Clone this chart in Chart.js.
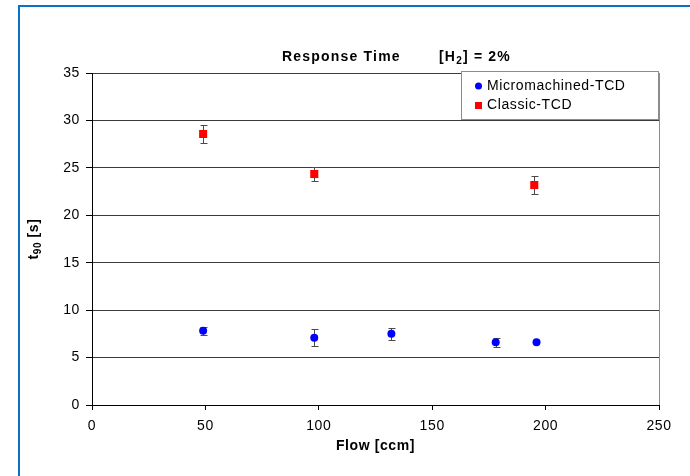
<!DOCTYPE html>
<html>
<head>
<meta charset="utf-8">
<script src="https://cdn.jsdelivr.net/npm/chart.js@4.4.0/dist/chart.umd.min.js"></script>
<style>
  html, body { margin: 0; padding: 0; background: #fff; }
  #wrap { width: 690px; height: 476px; position: relative; }
</style>
</head>
<body>
<div id="wrap"><canvas id="chart" width="690" height="476"></canvas></div>
<script>
// Flow [ccm] vs t90 [s], error = half bar length
const microFlow = [49, 98, 132, 178, 196];
const microT90 = [7.83, 7.1, 7.52, 6.61, 6.61];
const microErr = [0.4, 0.92, 0.63, 0.5, 0];

const classicFlow = [49, 98, 195];
const classicT90 = [28.57, 24.35, 23.19];
const classicErr = [0.91, 0.77, 0.91];

const xTicks = [0, 50, 100, 150, 200, 250];
const yTicks = [0, 5, 10, 15, 20, 25, 30, 35];

const FONT = "'Liberation Sans', Arial, sans-serif";

function toPoints(xs, ys, errs) {
    return xs.map((x, i) => ({ x: x, y: ys[i], err: errs[i] }));
}

// error bars, drawn under the markers
const errorBars = {
    id: 'errorBars',
    beforeDatasetsDraw(chart) {
        const ctx = chart.ctx;
        const xs = chart.scales.x, ys = chart.scales.y;
        ctx.save();
        ctx.strokeStyle = '#4a4a4a';
        ctx.lineWidth = 1;
        chart.data.datasets.forEach(ds => {
            ds.data.forEach(p => {
                if (!p.err) return;
                const px = Math.round(xs.getPixelForValue(p.x)) + 0.5;
                const top = Math.round(ys.getPixelForValue(p.y + p.err)) + 0.5;
                const bot = Math.round(ys.getPixelForValue(p.y - p.err)) + 0.5;
                ctx.beginPath();
                ctx.moveTo(px, top); ctx.lineTo(px, bot);
                ctx.moveTo(px - 3, top); ctx.lineTo(px + 4, top);
                ctx.moveTo(px - 3, bot); ctx.lineTo(px + 4, bot);
                ctx.stroke();
            });
        });
        ctx.restore();
    }
};

// frame, titles, legend
const decorations = {
    id: 'decorations',
    beforeDraw(chart) {
        const ctx = chart.ctx;
        ctx.save();
        ctx.fillStyle = '#fff';
        ctx.fillRect(0, 0, chart.width, chart.height);
        ctx.strokeStyle = '#0a72c4';
        ctx.lineWidth = 2;
        ctx.beginPath();
        ctx.moveTo(19, chart.height);
        ctx.lineTo(19, 6);
        ctx.lineTo(chart.width, 6);
        ctx.stroke();
        ctx.restore();
        // the reference text runs a little wide
        ctx.letterSpacing = '0.6px';
    },
    afterDraw(chart) {
        const ctx = chart.ctx;
        const area = chart.chartArea;
        ctx.save();

        // right edge of plot
        ctx.strokeStyle = '#8c8c8c';
        ctx.lineWidth = 1;
        ctx.beginPath();
        ctx.moveTo(Math.round(area.right) + 0.5, area.top);
        ctx.lineTo(Math.round(area.right) + 0.5, area.bottom);
        ctx.stroke();

        ctx.fillStyle = '#000';
        ctx.textBaseline = 'middle';

        // title
        ctx.letterSpacing = '1.2px';
        ctx.font = "bold 14px " + FONT;
        ctx.textAlign = 'left';
        ctx.fillText('Response Time', 282, 57);
        let x = 439;
        ctx.fillText('[H', x, 57);
        x += ctx.measureText('[H').width;
        ctx.font = "bold 10px " + FONT;
        ctx.fillText('2', x, 61);
        x += ctx.measureText('2').width;
        ctx.font = "bold 14px " + FONT;
        ctx.fillText('] = 2%', x, 57);

        // x axis title
        ctx.letterSpacing = '0.6px';
        ctx.textAlign = 'center';
        ctx.fillText('Flow [ccm]', (area.left + area.right) / 2, 446);

        // y axis title, rotated
        ctx.save();
        ctx.translate(34, (area.top + area.bottom) / 2);
        ctx.rotate(-Math.PI / 2);
        const w1 = ctx.measureText('t').width;
        ctx.font = "bold 10px " + FONT;
        const w2 = ctx.measureText('90').width;
        ctx.font = "bold 14px " + FONT;
        const w3 = ctx.measureText(' [s]').width;
        let tx = -(w1 + w2 + w3) / 2;
        ctx.textAlign = 'left';
        ctx.fillText('t', tx, 0);
        tx += w1;
        ctx.font = "bold 10px " + FONT;
        ctx.fillText('90', tx, 4);
        tx += w2;
        ctx.font = "bold 14px " + FONT;
        ctx.fillText(' [s]', tx, 0);
        ctx.restore();

        // legend box
        ctx.fillStyle = '#fff';
        ctx.fillRect(461, 71, 198, 48);
        ctx.strokeStyle = '#8c8c8c';
        ctx.strokeRect(461.5, 71.5, 197, 48);
        ctx.font = "14px " + FONT;
        ctx.textAlign = 'left';
        chart.data.datasets.forEach((ds, i) => {
            const cy = 86 + i * 19;
            ctx.fillStyle = ds.backgroundColor;
            if (ds.pointStyle === 'rect') {
                ctx.fillRect(475, cy - 3, 7, 7);
            } else {
                ctx.beginPath();
                ctx.arc(478.5, cy, 3.5, 0, Math.PI * 2);
                ctx.fill();
            }
            ctx.fillStyle = '#000';
            ctx.fillText(ds.label, 487, cy);
        });
        ctx.restore();
        ctx.letterSpacing = '0px';
    }
};

new Chart(document.getElementById('chart'), {
    type: 'scatter',
    data: {
        datasets: [{
            label: 'Micromachined-TCD',
            data: toPoints(microFlow, microT90, microErr),
            backgroundColor: '#0000ff',
            borderColor: '#0000ff',
            pointStyle: 'circle',
            pointRadius: 4,
            pointBorderWidth: 0
        }, {
            label: 'Classic-TCD',
            data: toPoints(classicFlow, classicT90, classicErr),
            backgroundColor: '#ff0000',
            borderColor: '#ff0000',
            pointStyle: 'rect',
            pointRadius: 5.7,
            pointBorderWidth: 0
        }]
    },
    options: {
        responsive: false,
        animation: false,
        devicePixelRatio: 1,
        layout: { padding: { top: 73, right: 31, left: 0, bottom: 0 } },
        plugins: {
            legend: { display: false },
            tooltip: { enabled: false },
            title: { display: false }
        },
        scales: {
            x: {
                type: 'linear',
                min: xTicks[0],
                max: xTicks[xTicks.length - 1],
                afterBuildTicks: s => { s.ticks = xTicks.map(v => ({ value: v })); },
                afterFit: s => { s.height = 71; },
                grid: { drawOnChartArea: false, drawTicks: true, tickLength: 5, tickColor: '#000' },
                border: { display: true, color: '#000', width: 1 },
                ticks: { color: '#000', font: { family: FONT, size: 14 }, padding: 8, maxRotation: 0 }
            },
            y: {
                type: 'linear',
                min: yTicks[0],
                max: yTicks[yTicks.length - 1],
                afterBuildTicks: s => { s.ticks = yTicks.map(v => ({ value: v })); },
                afterFit: s => { s.width = 92; },
                grid: { color: '#3a3a3a', drawTicks: true, tickLength: 6, tickColor: '#000' },
                border: { display: true, color: '#000', width: 1 },
                ticks: { color: '#000', font: { family: FONT, size: 14 }, padding: 6 }
            }
        }
    },
    plugins: [errorBars, decorations]
});
</script>
</body>
</html>
